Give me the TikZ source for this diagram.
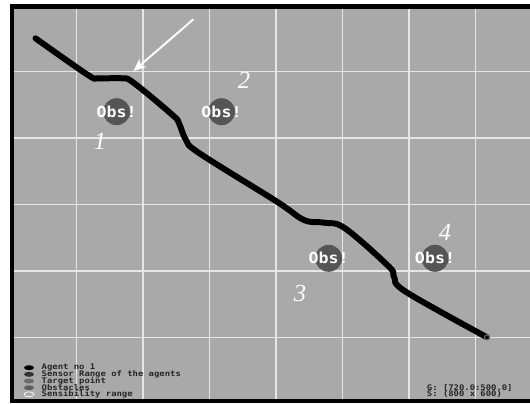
\documentclass[tikz,border=0pt]{standalone}
\usepackage{xcolor}
\definecolor{simBack}{HTML}{A9A9A9}
\definecolor{simGrid}{HTML}{E6E6E6}
\definecolor{simObs}{HTML}{555555}
\definecolor{simSensor}{HTML}{333333}
\definecolor{simTarget}{HTML}{6A6A6A}
\usepackage{fontspec}
\setmainfont{Liberation Serif}
\newfontfamily\pixfont{DejaVu Sans Mono}
\usepackage{tikz}
\usetikzlibrary{shapes.geometric, arrows.meta, positioning}

\begin{document}
\begin{tikzpicture}[
        x=0.02cm, y=-0.02cm,
        gridline/.style={simGrid, line width=0.8pt},
        obstacle/.style={circle, fill=simObs, minimum size=0.54cm, inner sep=0pt},
        obstext/.style={text=white, inner sep=0pt, font=\pixfont\bfseries\fontsize{8.6}{9}\selectfont},
        tagnum/.style={text=white, inner sep=0pt, font=\itshape\fontsize{14}{14}\selectfont},
        agentpath/.style={black, line width=3.4pt, line cap=round, line join=round},
        pointer/.style={-{Stealth[length=7pt, width=6pt, inset=2pt]}, white, line width=1.1pt},
        keymark/.style={ellipse, minimum width=0.2cm, minimum height=0.1cm, inner sep=0pt},
        keytext/.style={inner sep=0pt, text=black!85, font=\pixfont\bfseries\fontsize{4.4}{4.4}\selectfont},
    ]
        \useasboundingbox (0,0) rectangle (530,403);

        % Frame and field
        \fill[white] (0,0) rectangle (530,403);
        \fill[black] (10,4) rectangle (530,403);
        \fill[simBack] (13.5,8.5) rectangle (530,398.5);

        % Grid
        \foreach \gx in {76.5,143,209.5,276,342.5,409,475.5}
            \draw[gridline] (\gx,8.5) -- (\gx,398.5);
        \foreach \gy in {71.5,138,204.5,271,337.5}
            \draw[gridline] (13.5,\gy) -- (530,\gy);

        % Obstacles
        \node[obstacle] (obs1) at (116.6,111.7) {};
        \node[obstacle] (obs2) at (221.5,111.7) {};
        \node[obstacle] (obs3) at (328.6,258.3) {};
        \node[obstacle] (obs4) at (435,258.3) {};
        \node[obstext] (obs1txt) at (obs1) {\scalebox{1.1}[1]{Obs!}};
        \node[obstext] (obs2txt) at (obs2) {\scalebox{1.1}[1]{Obs!}};
        \node[obstext] (obs3txt) at (obs3) {\scalebox{1.1}[1]{Obs!}};
        \node[obstext] (obs4txt) at (obs4) {\scalebox{1.1}[1]{Obs!}};

        % Agent trajectory
        \draw[agentpath] plot[smooth, tension=0.6] coordinates {
            (35.5,38.3) (88,75) (98,78.3) (122,78.3) (133.5,82.7)
            (172.5,115) (179,123.3) (186,140) (199.5,153.3) (277,201.7)
            (304,220) (324.5,222.7) (345,228.3) (389,266.7) (394,276.7)
            (405.7,291.7) (487,337.3)};
        \node[circle, draw=simTarget, fill=black, line width=0.6pt, minimum size=0.1cm, inner sep=0pt] (goal) at (487,337.3) {};

        % Numbers
        \node[tagnum] (num1) at (100,141.7) {1};
        \node[tagnum] (num2) at (244,80) {2};
        \node[tagnum] (num3) at (300,293.3) {3};
        \node[tagnum] (num4) at (445,232.7) {4};

        % Pointer
        \coordinate (ptrtail) at (193.4,19.3);
        \coordinate (ptrhead) at (133.5,71);
        \draw[pointer] (ptrtail) -- (ptrhead);

        % Legend
        \node[keymark, fill=black] (key1) at (29,367.7) {};
        \node[keymark, fill=simSensor] (key2) at (29,374.3) {};
        \node[keymark, fill=simTarget] (key3) at (29,381) {};
        \node[keymark, fill=simTarget!90!black] (key4) at (29,387.7) {};
        \node[keymark, draw=white, fill=simBack, line width=0.4pt] (key5) at (29,394.3) {};
        \node[keytext, right=0.14cm of key1] (key1txt) {\scalebox{1.15}[1]{Agent no 1}};
        \node[keytext, right=0.14cm of key2] (key2txt) {\scalebox{1.15}[1]{Sensor Range of the agents}};
        \node[keytext, right=0.14cm of key3] (key3txt) {\scalebox{1.15}[1]{Target point}};
        \node[keytext, right=0.14cm of key4] (key4txt) {\scalebox{1.15}[1]{Obstacles}};
        \node[keytext, right=0.14cm of key5] (key5txt) {\scalebox{1.15}[1]{Sensibility range}};

        % Status
        \node[keytext, anchor=west] (gpos) at (426.6,387.7) {\scalebox{1.15}[1]{G: [720.0:500.0]}};
        \node[keytext, anchor=west] (spos) at (426.6,394.3) {\scalebox{1.15}[1]{S: (800 x 600)}};

    \end{tikzpicture}
\end{document}
